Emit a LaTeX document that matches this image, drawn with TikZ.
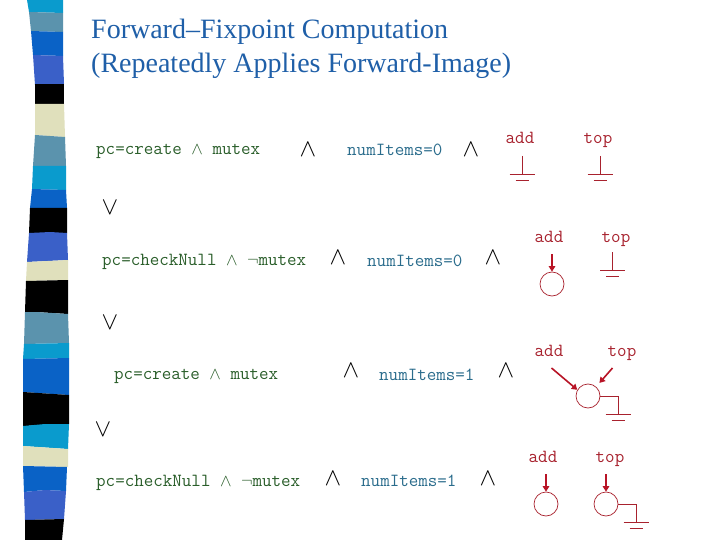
\documentclass[tikz,border=0pt]{standalone}
\usepackage{fontspec}
\setmainfont{Liberation Serif}
\usetikzlibrary{arrows.meta}
\definecolor{cyanb}{HTML}{0A9BCD}
\definecolor{greyb}{HTML}{5B93AD}
\definecolor{blueb}{HTML}{0A62C6}
\definecolor{royalb}{HTML}{3A60C8}
\definecolor{beigeb}{HTML}{E0E0BC}
\definecolor{titleb}{HTML}{1F5FA8}
\definecolor{greent}{HTML}{2A5E2A}
\definecolor{tealt}{HTML}{2A6C8C}
\definecolor{redt}{HTML}{A8222E}
\definecolor{reda}{HTML}{B81426}
\tikzset{
  x=1pt,y=-1pt,
  band/.style={fill=#1,draw=none},
  titletext/.style={anchor=base west,inner sep=0pt,text=titleb,font=\fontsize{28}{30}\selectfont},
  term/.style={anchor=base west,inner sep=0pt,text=greent,font=\ttfamily\fontsize{18.5}{20}\selectfont},
  numterm/.style={term,text=tealt},
  oper/.style={inner sep=0pt,text=black,font=\fontsize{23}{25}\selectfont},
  varname/.style={anchor=base,inner sep=0pt,text=redt,font=\ttfamily\fontsize{18.5}{20}\selectfont},
  bdd/.style={circle,draw=redt,line width=0.7pt,minimum size=24pt,inner sep=0pt},
  wire/.style={draw=redt,line width=0.7pt},
  ptr/.style={draw=reda,line width=1.6pt,-{Triangle[length=5.5pt,width=6.5pt]}}
}
\newcommand{\groundat}[2]{%
  \draw[wire] (#1,#2) -- (#1,#2+18);
  \draw[wire] (#1-12.5,#2+18) -- (#1+12.5,#2+18);
  \draw[wire] (#1-6.5,#2+24.5) -- (#1+6.5,#2+24.5);
}
\begin{document}
\begin{tikzpicture}
\useasboundingbox (0,0) rectangle (720,540);
\fill[white] (0,0) rectangle (720,540);
% decorative strip
\fill[band=cyanb] (27,0) -- (63,0) -- (63,13) -- (29,12) -- cycle;
\fill[band=greyb] (29,12) -- (63,13) -- (63,32) -- (31,31) -- cycle;
\fill[band=blueb] (31,31) -- (63,32) -- (63,56) -- (33,55) -- cycle;
\fill[band=royalb] (33,55) -- (63,56) -- (64,84) -- (35,85) -- cycle;
\fill[band=black] (35,84) -- (64,84) -- (64,104) -- (35,104) -- cycle;
\fill[band=beigeb] (35,104) -- (64,104) -- (65,137) -- (35,135) -- cycle;
\fill[band=greyb] (35,135) -- (65,137) -- (66,166) -- (33,166) -- cycle;
\fill[band=cyanb] (33,166) -- (66,166) -- (66,190) -- (32,189) -- cycle;
\fill[band=blueb] (32,189) -- (66,190) -- (67,208) -- (30,208) -- cycle;
\fill[band=black] (30,208) -- (67,208) -- (67,233) -- (29,233) -- cycle;
\fill[band=royalb] (29,233) -- (50,232) -- (67,233) -- (68,260) -- (27,262) -- cycle;
\fill[band=beigeb] (27,262) -- (68,260) -- (68,280) -- (26,281) -- cycle;
\fill[band=black] (26,281) -- (68,280) -- (68,314) -- (36,312) -- (25,312) -- cycle;
\fill[band=greyb] (25,312) -- (36,312) -- (68,314) -- (69,343) -- (24,344) -- cycle;
\fill[band=cyanb] (24,344) -- (69,343) -- (69,358) -- (23,359) -- cycle;
\fill[band=blueb] (23,359) -- (69,358) -- (69,395) -- (23,392) -- cycle;
\fill[band=black] (23,392) -- (69,395) -- (69,424) -- (23,426) -- cycle;
\fill[band=cyanb] (23,426) -- (45,424) -- (69,424) -- (68,449) -- (23,446) -- cycle;
\fill[band=beigeb] (23,446) -- (68,449) -- (68,467) -- (23,466) -- cycle;
\fill[band=blueb] (23,466) -- (67,467) -- (66,491) -- (45,490) -- (24,492) -- cycle;
\fill[band=royalb] (24,492) -- (45,490) -- (66,491) -- (64,519) -- (25,520) -- cycle;
\fill[band=black] (25,520) -- (64,519) -- (62,540) -- (25,540) -- cycle;
% title
\node[titletext] (title1) at (91,39) {Forward–Fixpoint Computation};
\node[titletext] (title2) at (91,73) {(Repeatedly Applies Forward-Image)};
% row 1
\node[term] (r1a) at (96,155) {pc=create \(\wedge\) mutex};
\node[oper] (r1b) at (308,150) {\(\wedge\)};
\node[numterm] (r1c) at (347,156) {numItems=0};
\node[oper] (r1d) at (471,150) {\(\wedge\)};
\node[varname] (r1add) at (520,144) {add};
\node[varname] (r1top) at (598,144) {top};
\groundat{522}{156}
\groundat{600}{156}
\node[oper] (or1) at (110,208) {\(\vee\)};
% row 2
\node[term] (r2a) at (102,265) {pc=checkNull \(\wedge\) \(\neg\)mutex};
\node[oper] (r2b) at (338,258) {\(\wedge\)};
\node[numterm] (r2c) at (367,266) {numItems=0};
\node[oper] (r2d) at (493,258) {\(\wedge\)};
\node[varname] (r2add) at (549,242) {add};
\node[varname] (r2top) at (616,242) {top};
\node[bdd] (c2) at (552,284) {};
\coordinate (s2) at (552,254);
\draw[ptr] (s2) -- (c2);
\groundat{612.5}{252}
\node[oper] (or2) at (110,323) {\(\vee\)};
% row 3
\node[term] (r3a) at (114,379) {pc=create \(\wedge\) mutex};
\node[oper] (r3b) at (351,371) {\(\wedge\)};
\node[numterm] (r3c) at (379,380) {numItems=1};
\node[oper] (r3d) at (506,371) {\(\wedge\)};
\node[varname] (r3add) at (549,356) {add};
\node[varname] (r3top) at (622,356) {top};
\node[bdd] (c3) at (588,396) {};
\coordinate (s3a) at (551.5,368);
\coordinate (s3t) at (612.5,368);
\draw[ptr] (s3a) -- (c3.150);
\draw[ptr,shorten >=5pt] (s3t) -- (c3);
\draw[wire] (c3.east) -| (618,414);
\draw[wire] (605.5,414) -- (630.5,414);
\draw[wire] (611.5,420.5) -- (624.5,420.5);
\node[oper] (or3) at (103,430) {\(\vee\)};
% row 4
\node[term] (r4a) at (96,486) {pc=checkNull \(\wedge\) \(\neg\)mutex};
\node[oper] (r4b) at (333,479) {\(\wedge\)};
\node[numterm] (r4c) at (361,486) {numItems=1};
\node[oper] (r4d) at (488,479) {\(\wedge\)};
\node[varname] (r4add) at (543,462) {add};
\node[varname] (r4top) at (610,462) {top};
\node[bdd] (c4a) at (546,504) {};
\node[bdd] (c4b) at (606,504) {};
\coordinate (s4a) at (546,474);
\coordinate (s4b) at (606,474);
\draw[ptr] (s4a) -- (c4a);
\draw[ptr] (s4b) -- (c4b);
\draw[wire] (c4b.east) -| (636,522);
\draw[wire] (623.5,522) -- (648.5,522);
\draw[wire] (629.5,528.5) -- (642.5,528.5);
\end{tikzpicture}
\end{document}
